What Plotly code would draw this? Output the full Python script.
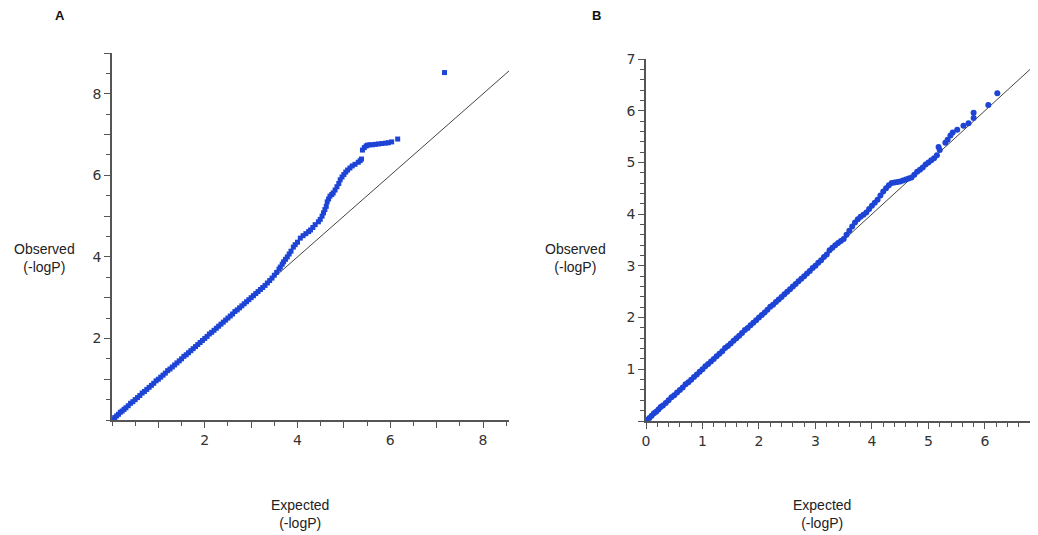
import plotly.graph_objects as go

# Panel A: observed vs expected (-logP)
a_exp_low = [0.02, 0.06, 0.1, 0.14, 0.18, 0.22, 0.26, 0.3, 0.35, 0.4, 0.45, 0.5, 0.55, 0.6, 0.65,
             0.7, 0.75, 0.8, 0.85, 0.9, 0.95, 1.0, 1.05, 1.1, 1.15, 1.2, 1.25, 1.3, 1.35, 1.4,
             1.45, 1.5, 1.55, 1.6, 1.65, 1.7, 1.75, 1.8, 1.85, 1.9, 1.95, 2.0, 2.05, 2.1, 2.15,
             2.2, 2.25, 2.3, 2.35, 2.4, 2.45, 2.5, 2.55, 2.6, 2.65, 2.7, 2.75, 2.8, 2.85, 2.9,
             2.95, 3.0, 3.05, 3.1, 3.15, 3.2, 3.25, 3.3]
a_obs_low = [0.02, 0.06, 0.1, 0.14, 0.19, 0.22, 0.26, 0.3, 0.35, 0.41, 0.45, 0.5, 0.55, 0.6, 0.66,
             0.7, 0.75, 0.8, 0.85, 0.9, 0.96, 1.0, 1.05, 1.1, 1.15, 1.21, 1.25, 1.3, 1.35, 1.4,
             1.45, 1.5, 1.56, 1.6, 1.65, 1.7, 1.75, 1.8, 1.85, 1.9, 1.95, 2.0, 2.05, 2.11, 2.15,
             2.2, 2.25, 2.3, 2.35, 2.4, 2.45, 2.5, 2.55, 2.6, 2.66, 2.7, 2.75, 2.8, 2.85, 2.9,
             2.95, 3.0, 3.05, 3.1, 3.15, 3.2, 3.25, 3.3]
a_exp_tail = [3.35, 3.4, 3.45, 3.5, 3.55, 3.6, 3.63, 3.67, 3.7, 3.74, 3.78, 3.82, 3.86, 3.91, 3.95,
              4.0, 4.06, 4.12, 4.18, 4.24, 4.28, 4.33, 4.38, 4.45, 4.49, 4.53, 4.56, 4.59, 4.62,
              4.64, 4.67, 4.7, 4.74, 4.77, 4.81, 4.85, 4.89, 4.92, 4.96, 5.0, 5.04, 5.08, 5.13,
              5.18, 5.24, 5.31, 5.35, 5.38, 5.40, 5.44, 5.48, 5.51, 5.56, 5.62, 5.68, 5.75, 5.82,
              5.9, 5.96, 6.03, 6.16, 7.17]
a_obs_tail = [3.36, 3.42, 3.48, 3.55, 3.62, 3.7, 3.75, 3.82, 3.88, 3.94, 4.0, 4.07, 4.14, 4.24, 4.3,
              4.36, 4.46, 4.52, 4.57, 4.62, 4.66, 4.72, 4.79, 4.86, 4.92, 5.0, 5.08, 5.16, 5.24,
              5.35, 5.42, 5.49, 5.53, 5.57, 5.64, 5.72, 5.8, 5.89, 5.96, 6.02, 6.08, 6.13, 6.18,
              6.23, 6.27, 6.32, 6.36, 6.4, 6.62, 6.68, 6.72, 6.74, 6.75, 6.75, 6.76, 6.77, 6.78,
              6.79, 6.8, 6.82, 6.89, 8.52]

# Panel B: observed vs expected (-logP)
b_exp_low = [0.02, 0.06, 0.1, 0.14, 0.18, 0.22, 0.26, 0.3, 0.35, 0.4, 0.45, 0.5, 0.55, 0.6, 0.65,
             0.7, 0.75, 0.8, 0.85, 0.9, 0.95, 1.0, 1.05, 1.1, 1.15, 1.2, 1.25, 1.3, 1.35, 1.4,
             1.45, 1.5, 1.55, 1.6, 1.65, 1.7, 1.75, 1.8, 1.85, 1.9, 1.95, 2.0, 2.05, 2.1, 2.15,
             2.2, 2.25, 2.3, 2.35, 2.4, 2.45, 2.5, 2.55, 2.6, 2.65, 2.7, 2.75, 2.8, 2.85, 2.9,
             2.95, 3.0, 3.05, 3.1, 3.15, 3.2]
b_obs_low = [0.02, 0.06, 0.1, 0.15, 0.18, 0.22, 0.27, 0.3, 0.35, 0.4, 0.46, 0.5, 0.55, 0.6, 0.65,
             0.71, 0.75, 0.8, 0.85, 0.9, 0.95, 1.0, 1.06, 1.1, 1.15, 1.2, 1.25, 1.3, 1.35, 1.41,
             1.45, 1.5, 1.55, 1.6, 1.65, 1.7, 1.76, 1.8, 1.85, 1.9, 1.95, 2.0, 2.05, 2.1, 2.15,
             2.21, 2.25, 2.3, 2.35, 2.4, 2.45, 2.5, 2.55, 2.6, 2.65, 2.7, 2.75, 2.8, 2.85, 2.9,
             2.96, 3.0, 3.06, 3.11, 3.17, 3.22]
b_exp_tail = [3.25, 3.3, 3.35, 3.4, 3.45, 3.5, 3.55, 3.6, 3.65, 3.7, 3.75, 3.8, 3.85, 3.9, 3.95,
              4.0, 4.05, 4.1, 4.15, 4.2, 4.25, 4.3, 4.35, 4.4, 4.45, 4.5, 4.55, 4.6, 4.65, 4.7,
              4.75, 4.8, 4.85, 4.9, 4.95, 5.0, 5.05, 5.1, 5.15, 5.18, 5.2, 5.3, 5.34, 5.39, 5.43,
              5.51, 5.62, 5.71, 5.8, 5.8, 6.06, 6.22]
b_obs_tail = [3.3, 3.35, 3.4, 3.44, 3.48, 3.52, 3.6, 3.68, 3.76, 3.84, 3.9, 3.95, 3.99, 4.03, 4.1,
              4.16, 4.22, 4.28, 4.36, 4.44, 4.5, 4.56, 4.6, 4.61, 4.62, 4.63, 4.65, 4.67, 4.69, 4.71,
              4.76, 4.82, 4.86, 4.9, 4.96, 5.0, 5.04, 5.08, 5.14, 5.3, 5.24, 5.38, 5.44, 5.52, 5.58,
              5.63, 5.71, 5.76, 5.86, 5.96, 6.11, 6.34]

a_exp = a_exp_low + a_exp_tail
a_obs = a_obs_low + a_obs_tail
b_exp = b_exp_low + b_exp_tail
b_obs = b_obs_low + b_obs_tail

a_diag = [0, 8.56]
b_diag = [0, 7.0]

a_tickvals = [1, 2, 3, 4, 5, 6, 7, 8]
a_ticktext = ["", "2", "", "4", "", "6", "", "8"]
a_ytickvals = [1, 2, 3, 4, 5, 6, 7, 8, 9]
a_yticktext = ["", "2", "", "4", "", "6", "", "8", ""]
b_tickvals = [0, 1, 2, 3, 4, 5, 6, 7]
b_yticktext = ["", "1", "2", "3", "4", "5", "6", "7"]

BLUE = "#1d44d4"
OFF = 8  # page body margin in the browser
W, H = 1030, 527

fig = go.Figure()
fig.add_trace(go.Scatter(x=a_diag, y=a_diag, mode="lines", line=dict(color="#444444", width=1),
                         xaxis="x", yaxis="y", hoverinfo="skip"))
fig.add_trace(go.Scatter(x=a_exp, y=a_obs, mode="markers",
                         marker=dict(color=BLUE, size=5, symbol="square", line=dict(width=0)),
                         xaxis="x", yaxis="y"))
fig.add_trace(go.Scatter(x=b_diag, y=b_diag, mode="lines", line=dict(color="#444444", width=1),
                         xaxis="x2", yaxis="y2", hoverinfo="skip"))
fig.add_trace(go.Scatter(x=b_exp, y=b_obs, mode="markers",
                         marker=dict(color=BLUE, size=6, symbol="circle", line=dict(width=0)),
                         xaxis="x2", yaxis="y2"))

tickfont = dict(family="DejaVu Sans", size=14, color="#333333")
common = dict(showgrid=False, zeroline=False, showline=True, linecolor="#555555", linewidth=1.5,
              ticks="outside", ticklen=6, tickcolor="#555555", tickwidth=1.3,
              tickfont=tickfont, automargin=False, fixedrange=True)


def px_x(px):
    return (px - OFF) / W


def px_y(px):
    return 1 - (px - OFF) / H


def minor(step):
    return dict(dtick=step, tick0=0, ticks="outside", ticklen=4,
                tickcolor="#555555", tickwidth=1.2, showgrid=False)


fig.update_layout(
    width=W, height=H, autosize=False,
    margin=dict(l=0, r=0, t=0, b=0),
    paper_bgcolor="white", plot_bgcolor="white",
    showlegend=False,
    xaxis=dict(domain=[px_x(112), px_x(509)], range=[0, 8.56], anchor="y",
               tickvals=a_tickvals, ticktext=a_ticktext, minor=minor(0.5), **common),
    yaxis=dict(domain=[px_y(420), px_y(53)], range=[0, 9.0], anchor="x",
               tickvals=a_ytickvals, ticktext=a_yticktext, minor=minor(0.5), **common),
    xaxis2=dict(domain=[px_x(646), 1.0], range=[0, 6.94], anchor="y2",
                tickvals=b_tickvals, minor=minor(0.2), **common),
    yaxis2=dict(domain=[px_y(421), px_y(59)], range=[0, 7.0], anchor="x2",
                tickvals=b_tickvals, ticktext=b_yticktext, minor=minor(0.2), **common),
)

lab_font = dict(family="Liberation Sans, Arial", size=14, color="#222222")
letter_font = dict(family="Liberation Sans, Arial", size=13, color="#111111")
ann = [
    dict(text="<b>A</b>", x=px_x(60), y=px_y(15), font=letter_font),
    dict(text="<b>B</b>", x=px_x(596), y=px_y(15), font=letter_font),
    dict(text="Observed<br>(-logP)", x=px_x(45), y=px_y(258), font=lab_font),
    dict(text="Observed<br>(-logP)", x=px_x(575), y=px_y(258), font=lab_font),
    dict(text="Expected<br>(-logP)", x=px_x(300), y=px_y(514), font=lab_font),
    dict(text="Expected<br>(-logP)", x=px_x(822), y=px_y(514), font=lab_font),
    dict(text="7", x=px_x(1041), y=px_y(441), font=tickfont),
]
for a in ann:
    fig.add_annotation(xref="paper", yref="paper", showarrow=False,
                       xanchor="center", yanchor="middle", **a)

fig.write_html("out.html")
